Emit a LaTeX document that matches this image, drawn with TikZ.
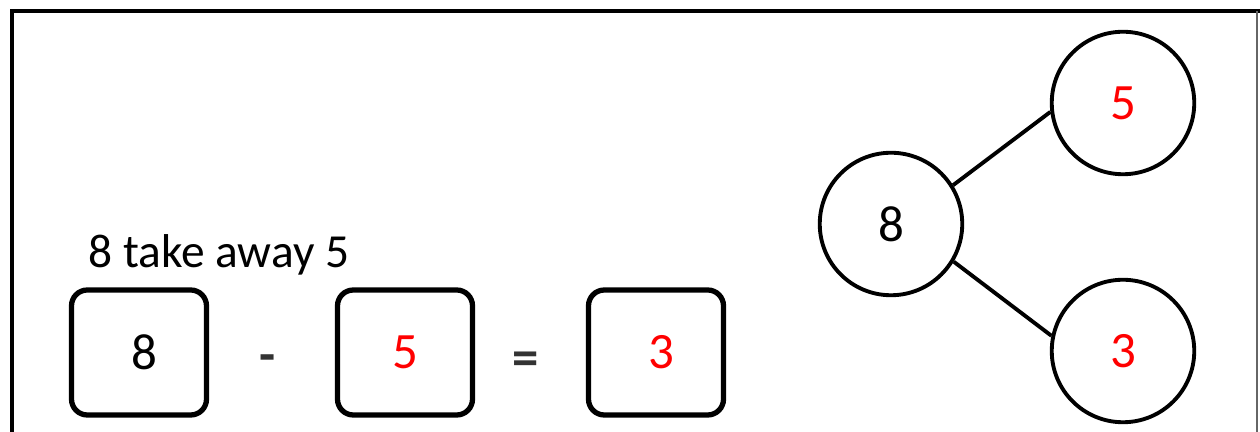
\documentclass[tikz,border=0pt]{standalone}
\usepackage{fontspec}
\setmainfont{Carlito}
\tikzset{
  numbox/.style={draw,line width=3pt,rounded corners=9pt,minimum width=2.7cm,minimum height=2.5cm,font=\fontsize{29}{34}\selectfont},
  numcirc/.style={draw,circle,line width=2.2pt,minimum size=2.85cm,font=\fontsize{29}{34}\selectfont},
  sign/.style={text=black!80,font=\fontsize{30}{34}\selectfont\bfseries}
}
\begin{document}
\begin{tikzpicture}

\useasboundingbox (0,0) rectangle (25.2,8.64);

% Marco
\draw[line width=2.4pt] (0.24,0) -- (0.24,8.42) -- (25.2,8.42);
\draw[line width=0.8pt,black!60] (25.14,8.42) -- (25.14,0);

% Texto
\node[anchor=base west,font=\fontsize{27}{32}\selectfont,inner sep=0pt] (txt) at (1.76,3.28) {8 take away 5};

% Cajas
\node[numbox] (b8) at (2.78,1.59) {\hspace{0.2cm}8};
\node[numbox,text=red] (b5) at (8.1,1.59) {5};
\node[numbox,text=red] (b3) at (13.12,1.59) {\hspace{0.2cm}3};

% Signos
\node[sign] (minus) at (5.36,1.36) {-};
\node[sign] (eq) at (10.52,1.36) {=};

% Circulos
\node[numcirc] (c8) at (17.82,4.16) {8};
\node[numcirc,text=red] (c5) at (22.46,6.58) {5};
\node[numcirc,text=red] (c3) at (22.46,1.62) {3};

% Lineas
\draw[line width=2.2pt] (c8.32) -- (c5.187);
\draw[line width=2.2pt] (c8.-31) -- (c3.168);

\end{tikzpicture}
\end{document}
